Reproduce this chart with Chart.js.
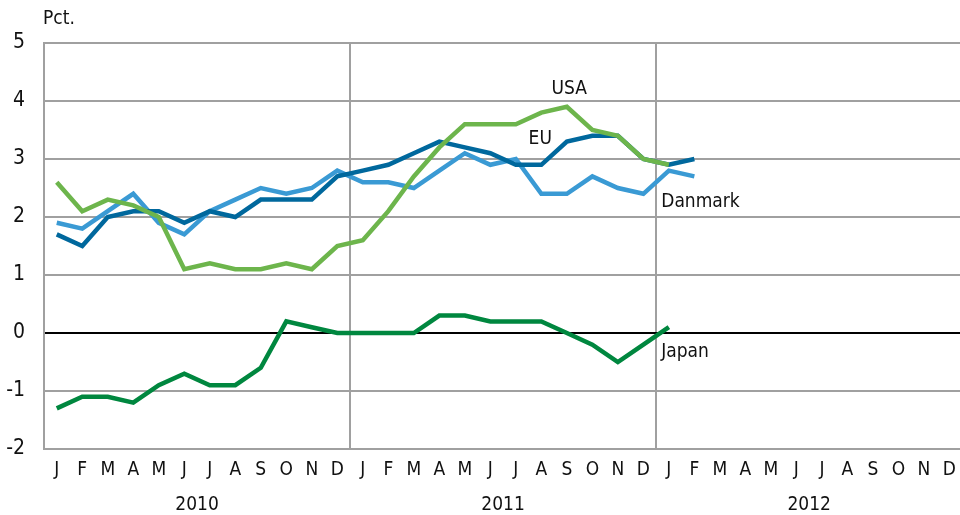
<!DOCTYPE html>
<html lang="da">
<head>
    <meta charset="UTF-8">
    <title>Inflation</title>
    <script src="https://cdn.jsdelivr.net/npm/chart.js"></script>
    <style>
        html, body { margin: 0; padding: 0; overflow: hidden; background: #fff; }
        #wrap { width: 966px; height: 515px; }
    </style>
    <script>
        // måneder, 2010-2012
        const months = ['J','F','M','A','M','J','J','A','S','O','N','D',
                        'J','F','M','A','M','J','J','A','S','O','N','D',
                        'J','F','M','A','M','J','J','A','S','O','N','D'];
        const years = ['2010', '2011', '2012'];
        const yTicks = [-2, -1, 0, 1, 2, 3, 4, 5];

        // værdier (pct.)
        const usa = [2.6, 2.1, 2.3, 2.2, 2.0, 1.1, 1.2, 1.1, 1.1, 1.2, 1.1, 1.5,
                     1.6, 2.1, 2.7, 3.2, 3.6, 3.6, 3.6, 3.8, 3.9, 3.5, 3.4, 3.0,
                     2.9];
        const eu = [1.7, 1.5, 2.0, 2.1, 2.1, 1.9, 2.1, 2.0, 2.3, 2.3, 2.3, 2.7,
                    2.8, 2.9, 3.1, 3.3, 3.2, 3.1, 2.9, 2.9, 3.3, 3.4, 3.4, 3.0,
                    2.9, 3.0];
        const danmark = [1.9, 1.8, 2.1, 2.4, 1.9, 1.7, 2.1, 2.3, 2.5, 2.4, 2.5, 2.8,
                         2.6, 2.6, 2.5, 2.8, 3.1, 2.9, 3.0, 2.4, 2.4, 2.7, 2.5, 2.4,
                         2.8, 2.7];
        const japan = [-1.3, -1.1, -1.1, -1.2, -0.9, -0.7, -0.9, -0.9, -0.6, 0.2, 0.1, 0.0,
                       0.0, 0.0, 0.0, 0.3, 0.3, 0.2, 0.2, 0.2, 0.0, -0.2, -0.5, -0.2,
                       0.1];

        // navne ved linjerne: [tekst, månedsindeks (venstre kant), y-værdi]
        const seriesLabels = [
            ['USA', 19.4, 4.2],
            ['EU', 18.5, 3.35],
            ['Danmark', 23.7, 2.25],
            ['Japan', 23.7, -0.33]
        ];

        const FONT = '"Liberation Sans Narrow", "DejaVu Sans Condensed", "Open Sans", sans-serif';

        // tekster der ikke er en del af akserne
        const extraText = {
            id: 'extraText',
            afterDraw(chart) {
                const ctx = chart.ctx;
                const x = chart.scales.x, y = chart.scales.y;
                ctx.save();
                ctx.fillStyle = '#111';
                ctx.font = '19px ' + FONT;
                ctx.textBaseline = 'middle';

                // Pct.
                ctx.textAlign = 'left';
                ctx.fillText('Pct.', 43, 19);

                // årstal under månederne
                ctx.textAlign = 'center';
                years.forEach((yr, i) => {
                    const a = x.getPixelForValue(i * 12 + 5);
                    const b = x.getPixelForValue(i * 12 + 6);
                    ctx.fillText(yr, (a + b) / 2, 505);
                });

                // serienavne
                ctx.textAlign = 'left';
                const step = x.getPixelForValue(1) - x.getPixelForValue(0);
                seriesLabels.forEach(s => {
                    const px = x.getPixelForValue(0) + s[1] * step;
                    ctx.fillText(s[0], px, y.getPixelForValue(s[2]));
                });
                ctx.restore();
            }
        };

        document.addEventListener('DOMContentLoaded', function() {
            const ctx = document.getElementById('c').getContext('2d');
            const line = (label, data, color) => ({
                label: label,
                data: data,
                borderColor: color,
                borderWidth: 4.5,
                pointRadius: 0,
                tension: 0,
                fill: false
            });

            new Chart(ctx, {
                type: 'line',
                data: {
                    labels: months,
                    datasets: [
                        line('USA', usa, '#6db54c'),
                        line('EU', eu, '#00689d'),
                        line('Danmark', danmark, '#3a9ad4'),
                        line('Japan', japan, '#00873f')
                    ]
                },
                options: {
                    responsive: false,
                    animation: false,
                    layout: { padding: { top: 43, right: 0, left: 0, bottom: 0 } },
                    plugins: {
                        legend: { display: false },
                        tooltip: { enabled: false }
                    },
                    scales: {
                        x: {
                            offset: true,
                            grid: {
                                offset: true,
                                drawTicks: false,
                                color: c => (c.index === 12 || c.index === 24) ? '#a0a0a0' : 'rgba(0,0,0,0)',
                                lineWidth: 2
                            },
                            border: { display: false },
                            ticks: {
                                autoSkip: false,
                                maxRotation: 0,
                                color: '#111',
                                font: { family: FONT, size: 19 },
                                padding: 10
                            },
                            afterFit: s => { s.height = 66; }
                        },
                        y: {
                            min: -2,
                            max: 5,
                            afterBuildTicks: s => { s.ticks = yTicks.map(v => ({ value: v })); },
                            grid: {
                                drawTicks: false,
                                color: c => c.tick && c.tick.value === 0 ? '#000' : '#a0a0a0',
                                lineWidth: 2
                            },
                            border: { display: true, color: '#a0a0a0', width: 2 },
                            ticks: {
                                color: '#111',
                                font: { family: FONT, size: 21 },
                                padding: 19
                            },
                            afterFit: s => { s.width = 44; }
                        }
                    }
                },
                plugins: [extraText]
            });
        });
    </script>
</head>
<body>
    <div id="wrap"><canvas id="c" width="966" height="515"></canvas></div>
</body>
</html>
